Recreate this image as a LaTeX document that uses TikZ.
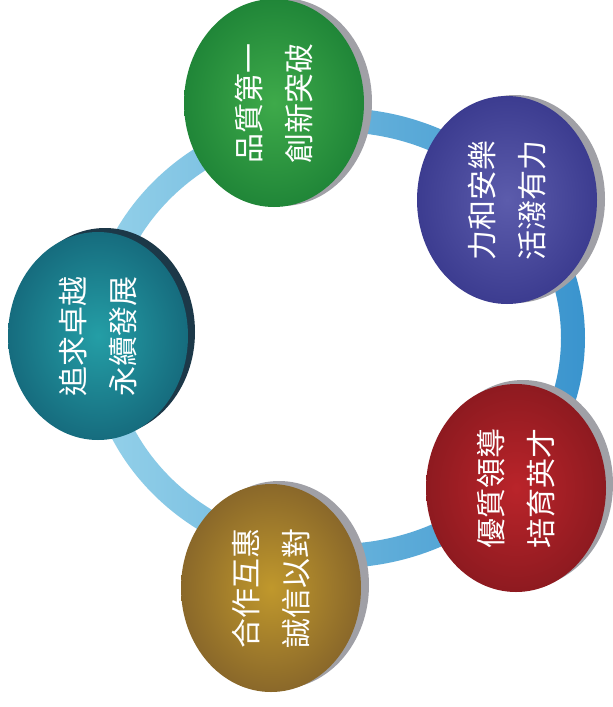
\documentclass[tikz,border=0pt]{standalone}
\usepackage{fontspec}
\newfontfamily\cjk{Noto Sans CJK TC}
\usepackage{tikz}
\usetikzlibrary{shapes.geometric}
\usetikzlibrary{shadows}
\definecolor{ringlight}{RGB}{150,210,234}
\definecolor{ringdark}{RGB}{58,148,206}
\definecolor{rimgray}{RGB}{160,160,166}
\definecolor{rimnavy}{RGB}{28,56,72}
\tikzset{
    bubble/.style={ellipse, minimum width=180pt, minimum height=208pt, inner sep=0pt, shading=radial},
    rim/.style n args={3}{general shadow={fill=#1, shadow xshift=#2pt, shadow yshift=#3pt}},
    motto/.style={text=white, font=\cjk\fontsize{30}{50}\selectfont, align=center, rotate=90}
}

\begin{document}
\begin{tikzpicture}[x=1pt, y=-1pt]
\useasboundingbox[fill=white] (0,0) rectangle (613,707);
\coordinate (ringc) at (336,338);
\shade[left color=ringlight, right color=ringdark, even odd rule]
  (ringc) ellipse [x radius=249, y radius=230]
  (ringc) ellipse [x radius=225, y radius=206];

\node[bubble, rim={rimgray}{8}{1}, inner color={rgb,255:red,62;green,170;blue,74}, outer color={rgb,255:red,32;green,134;blue,56}] (green) at (274,103) {};
\node[bubble, rim={rimgray}{8}{1}, inner color={rgb,255:red,92;green,92;blue,172}, outer color={rgb,255:red,60;green,60;blue,144}] (purple) at (507,200) {};
\node[bubble, rim={rimgray}{7}{4}, inner color={rgb,255:red,186;green,36;blue,42}, outer color={rgb,255:red,142;green,26;blue,32}] (red) at (516,488) {};
\node[bubble, rim={rimgray}{8}{3}, inner color={rgb,255:red,192;green,152;blue,44}, outer color={rgb,255:red,138;green,104;blue,42}] (gold) at (271,588) {};
\node[bubble, rim={rimnavy}{7}{4}, inner color={rgb,255:red,36;green,158;blue,166}, outer color={rgb,255:red,22;green,108;blue,126}] (teal) at (98,336) {};

\node[motto] (greentext) at (green) {品質第一\\創新突破};
\node[motto] (purpletext) at (purple) {力和安樂\\活潑有力};
\node[motto] (redtext) at (red) {優質領導\\培育英才};
\node[motto] (goldtext) at (gold) {合作互惠\\誠信以對};
\node[motto] (tealtext) at (teal) {追求卓越\\永續發展};
\end{tikzpicture}
\end{document}
